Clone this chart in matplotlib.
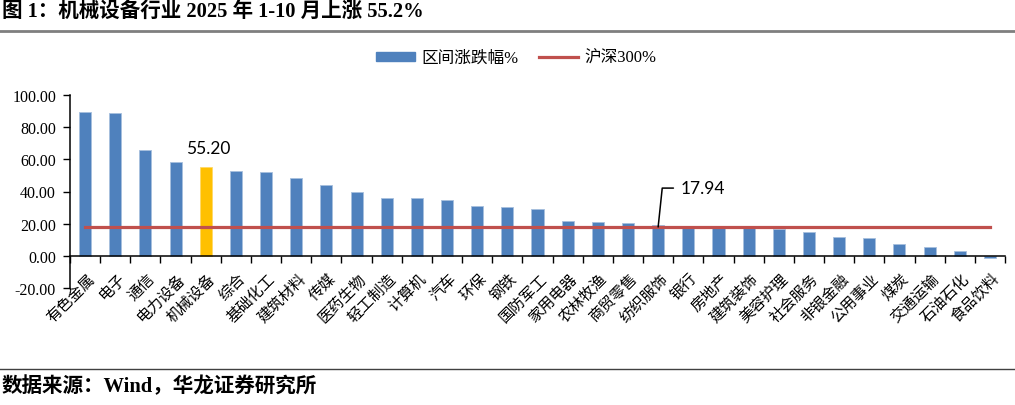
import matplotlib
matplotlib.use("Agg")
import matplotlib.pyplot as plt
from matplotlib.patches import Patch
from matplotlib.lines import Line2D
import matplotlib.transforms as mtransforms
import numpy as np

# data
industries = ['有色金属', '电子', '通信', '电力设备', '机械设备', '综合', '基础化工', '建筑材料',
              '传媒', '医药生物', '轻工制造', '计算机', '汽车', '环保', '钢铁', '国防军工',
              '家用电器', '农林牧渔', '商贸零售', '纺织服饰', '银行', '房地产', '建筑装饰',
              '美容护理', '社会服务', '非银金融', '公用事业', '煤炭', '交通运输', '石油石化', '食品饮料']
returns = [89.5, 88.7, 66.1, 58.5, 55.20, 52.7, 52.4, 48.7,
           44.3, 39.6, 35.9, 35.7, 34.5, 30.9, 30.1, 29.3,
           21.8, 21.3, 20.6, 18.9, 17.9, 17.7, 17.3,
           16.6, 14.9, 12.0, 11.2, 7.5, 5.2, 2.7, -1.2]
hs300 = 17.94
highlight = '机械设备'
yticks = [-20, 0, 20, 40, 60, 80, 100]

title = '图 1：机械设备行业 2025 年 1-10 月上涨 55.2%'
source = '数据来源：Wind，华龙证券研究所'

BLUE = '#4F81BD'
ORANGE = '#FFC000'
RED = '#C0504D'
CJK = ['Liberation Serif', 'Noto Sans CJK SC']

plt.rcParams['font.family'] = ['Noto Sans CJK SC', 'DejaVu Sans']

fig = plt.figure(figsize=(10.15, 4.06), dpi=100)
ax = fig.add_axes([70 / 1015, 1 - 289 / 406, 935 / 1015, 193 / 406])

x = np.arange(len(industries))
colors = [ORANGE if name == highlight else BLUE for name in industries]
edges = ['#FFD966' if name == highlight else '#A7BFDE' for name in industries]
ax.bar(x, returns, width=0.4, color=colors, edgecolor=edges, linewidth=0.6, zorder=2)
ax.plot(x, [hs300] * len(x), color=RED, linewidth=2.3, zorder=3)

ax.set_xlim(-0.5, len(x) - 0.5)
ax.set_ylim(-20, 100)
ax.set_yticks(yticks)
ax.set_yticklabels([f'{v:.2f}' for v in yticks], family='Liberation Serif', fontsize=11.5)
ax.tick_params(axis='y', direction='out', length=5, width=1, pad=5)

ax.spines['top'].set_visible(False)
ax.spines['right'].set_visible(False)
ax.spines['bottom'].set_position(('data', 0))
for s in ['left', 'bottom']:
    ax.spines[s].set_linewidth(1.1)
    ax.spines[s].set_color('black')

ax.set_xticks(x)
ax.set_xticks(np.arange(-0.5, len(x), 1.0), minor=True)
ax.tick_params(axis='x', which='major', length=0, pad=10)
ax.tick_params(axis='x', which='minor', length=5, width=1, direction='out')
ax.set_xticklabels(industries, rotation=45, ha='right', rotation_mode='anchor', fontsize=11)
shift = mtransforms.ScaledTranslation(1 / 100, 0, fig.dpi_scale_trans)
for lbl in ax.get_xticklabels():
    lbl.set_transform(lbl.get_transform() + shift)

# labels
hi = industries.index(highlight)
ax.annotate(f'{returns[hi]:.2f}', xy=(hi, returns[hi]), xytext=(2, 8), textcoords='offset points',
            ha='center', va='bottom', fontsize=12.5, family='Lato')
idx = industries.index('纺织服饰')
ax.annotate(f'{hs300:.2f}', xy=(idx, hs300), xytext=(16, 28), textcoords='offset points',
            ha='left', va='center', fontsize=12.5, family='Lato',
            arrowprops=dict(arrowstyle='-', color='black', lw=1.1, shrinkA=3, shrinkB=0,
                            connectionstyle='angle,angleA=180,angleB=84,rad=0'))

# legend
handles = [Patch(facecolor=BLUE, edgecolor=BLUE), Line2D([0], [0], color=RED, lw=2.3)]
fig.legend(handles, ['区间涨跌幅%', '沪深300%'], loc='center', bbox_to_anchor=(516 / 1015, 1 - 59 / 406),
           ncol=2, frameon=False, handlelength=2.35, handleheight=0.45, columnspacing=1.25,
           handletextpad=0.35, prop={'family': CJK, 'size': 12})

# title, source and rules
fig.text(0.002, 1 - 12 / 406, title, fontsize=14.8, fontweight='bold', family=CJK, va='center', ha='left')
fig.add_artist(Line2D([0, 1], [1 - 32 / 406] * 2, color='#7f7f7f', lw=2))
fig.add_artist(Line2D([0, 1], [1 - 370 / 406] * 2, color='#404040', lw=1))
fig.text(0.002, 1 - 387 / 406, source, fontsize=14.8, fontweight='bold', family=CJK, va='center', ha='left')

fig.savefig('out.png', dpi=100)
